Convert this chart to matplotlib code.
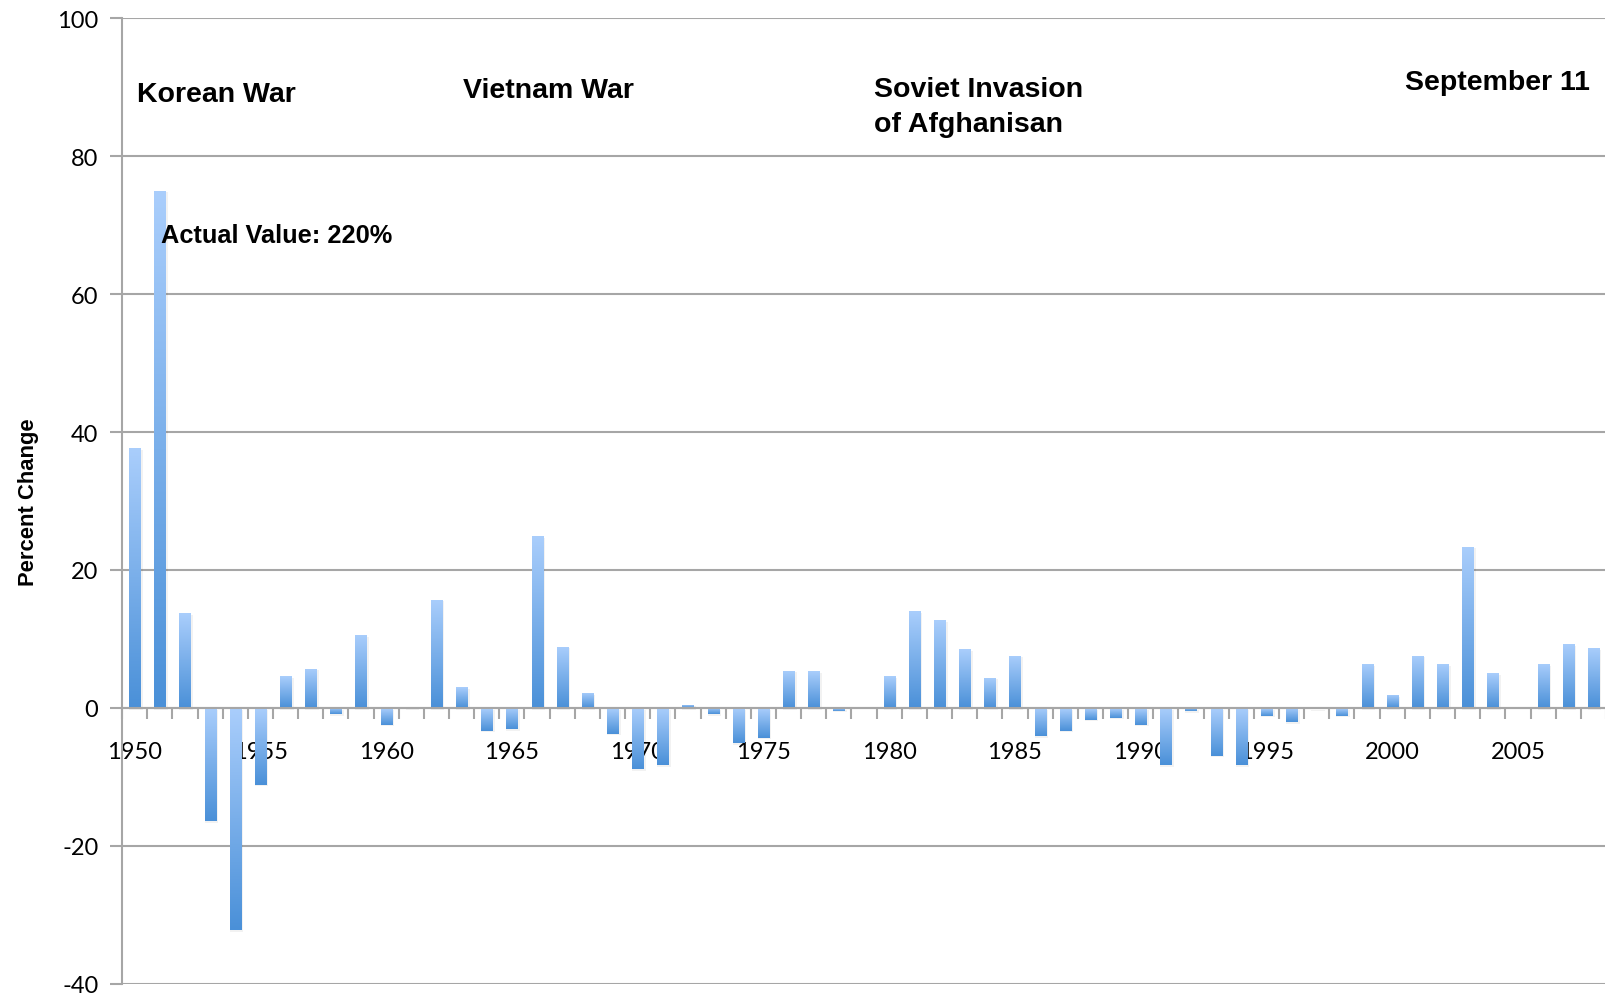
import matplotlib
matplotlib.use("Agg")
import matplotlib.pyplot as plt
import numpy as np

plt.rcParams['font.family'] = ['Lato', 'DejaVu Sans']
plt.rcParams['axes.unicode_minus'] = False

# 年份与年度变化百分比（1951 年实际值 220%，图中截断为 75）
years = list(range(1950, 2009))
pct_change = [
    37.7, 75.0, 13.7, -16.4, -32.2, -11.1, 4.6, 5.7, -0.9, 10.6,
    -2.4, 0.2, 15.7, 3.0, -3.3, -3.1, 24.9, 8.9, 2.2, -3.7,
    -8.9, -8.3, 0.5, -0.9, -5.1, -4.3, 5.4, 5.3, -0.4, -0.1,
    4.6, 14.0, 12.7, 8.5, 4.4, 7.6, -4.1, -3.3, -1.7, -1.4,
    -2.4, -8.3, -0.5, -6.9, -8.3, -1.1, -2.1, -0.2, -1.1, 6.4,
    1.9, 7.6, 6.4, 23.4, 5.0, -0.1, 6.4, 9.3, 8.7,
]

# 事件标注: (文本, 横向位置(年份序号), 纵向位置)
events = [
    ("Korean War", 0.1, 89.0),
    ("Vietnam War", 13.05, 89.6),
    ("Soviet Invasion\nof Afghanisan", 29.4, 87.2),
    ("September 11", 50.5, 90.7),
]
note_text = "Actual Value: 220%"

bold_font = ['Liberation Sans', 'DejaVu Sans']
grid_color = '#a6a6a6'
light_blue = np.array([0xaa, 0xce, 0xfc]) / 255
dark_blue = np.array([0x4a, 0x90, 0xd8]) / 255

fig = plt.figure(figsize=(16.06, 10.03), dpi=100)
ax = fig.add_axes([0.076, 0.018, 0.924, 0.963])

x = np.arange(len(years))
bars = ax.bar(x, pct_change, width=0.44, facecolor='none', edgecolor='none', zorder=3)

# 每根柱子上亮下暗的渐变填充
grad = np.linspace(0, 1, 256)[:, None, None]
grad_img = light_blue * (1 - grad) + dark_blue * grad
for rect, v in zip(bars, pct_change):
    x0 = rect.get_x()
    w = rect.get_width()
    top, bottom = max(v, 0), min(v, 0)
    # 柱子下方的淡阴影
    ax.bar(x0 + w / 2 + 0.05, v, width=w + 0.1, bottom=-0.25, color='#000000',
           alpha=0.05, zorder=2, linewidth=0)
    im = ax.imshow(grad_img, extent=[x0, x0 + w, bottom, top], origin='upper',
                   aspect='auto', zorder=3, interpolation='bilinear')
    im.set_clip_path(rect)

ax.set_xlim(-0.5, len(years) - 0.5)
ax.set_ylim(-40, 100)

# 网格与坐标轴
ax.set_yticks(range(-40, 101, 20))
ax.yaxis.grid(True, color=grid_color, linewidth=1.5, zorder=0)
ax.set_axisbelow(True)
for s in ['top', 'right']:
    ax.spines[s].set_visible(False)
ax.spines['left'].set_color(grid_color)
ax.spines['left'].set_linewidth(1.5)
ax.spines['bottom'].set_position(('data', 0))
ax.spines['bottom'].set_color(grid_color)
ax.spines['bottom'].set_linewidth(1.5)
ax.spines['bottom'].set_zorder(4)

ax.set_xticks(np.arange(-0.5, len(years), 1.0))
ax.set_xticklabels([])
ax.tick_params(axis='x', which='major', direction='out', length=8, width=1.5,
               color=grid_color)
label_pos = [i for i, y in enumerate(years) if y % 5 == 0]
ax.set_xticks(label_pos, minor=True)
ax.set_xticklabels([str(years[i]) for i in label_pos], minor=True)
ax.tick_params(axis='x', which='minor', length=0, pad=24, labelsize=17)
ax.tick_params(axis='y', direction='out', length=9, width=1.5, color=grid_color,
               labelsize=17, pad=8)

ax.set_ylabel('Percent Change', fontsize=15.8, fontweight='bold', family=bold_font,
              labelpad=13)

for text, tx, ty in events:
    ax.text(tx, ty, text, fontsize=20.5, fontweight='bold', family=bold_font,
            ha='left', va='center', linespacing=1.45)
ax.text(1.03, 68.6, note_text, fontsize=18.3, fontweight='bold', family=bold_font,
        ha='left', va='center', zorder=5)

fig.savefig('out.png', dpi=100)
